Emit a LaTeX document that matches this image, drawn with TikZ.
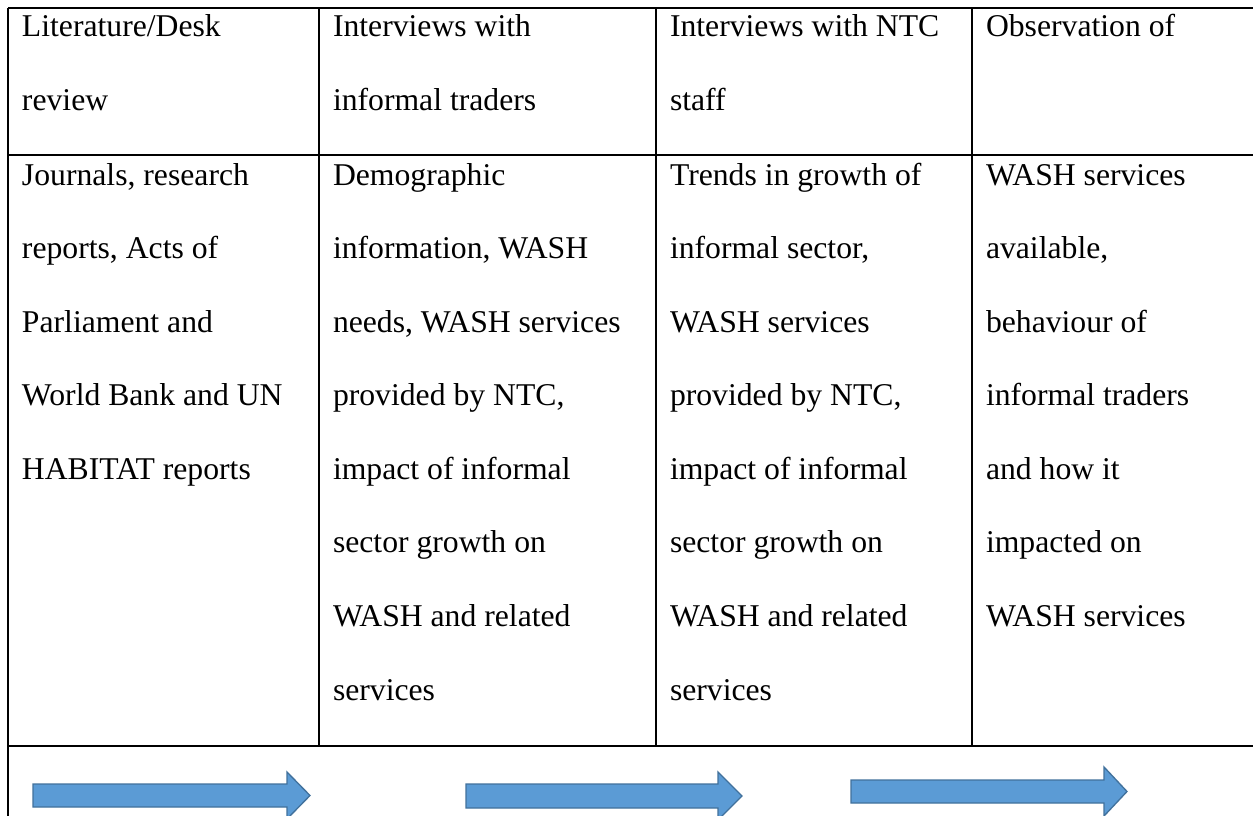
\documentclass[tikz,border=0pt]{standalone}
\usepackage{fontspec}
\setmainfont{Liberation Serif}
\definecolor{arrowfill}{HTML}{5B9BD5}
\definecolor{arrowline}{HTML}{41719C}
\begin{document}
\begin{tikzpicture}[x=0.378788pt,y=-0.378788pt,
  grid/.style={line width=0.5pt,black},
  cell/.style={anchor=north west,inner sep=0pt,outer sep=0pt,align=left,
    font=\fontsize{12}{27.87}\selectfont},
  blockarrow/.style={fill=arrowfill,draw=arrowline,line width=0.5pt,line join=miter}]
\clip (0,0) rectangle (1253,816);
\fill[white] (0,0) rectangle (1253,816);
% grid lines
\draw[grid] (8,8) -- (1260,8);
\draw[grid] (8,155) -- (1260,155);
\draw[grid] (8,746) -- (1260,746);
\draw[grid] (8,8) -- (8,830);
\draw[grid] (319,8) -- (319,746);
\draw[grid] (656,8) -- (656,746);
\draw[grid] (972,8) -- (972,746);
% header row
\def\st{\rule{0pt}{10pt}}
\node[cell] (h1) at (22,10.6) {\st Literature/Desk\\review};
\node[cell] (h2) at (333,10.6) {\st Interviews with\\informal traders};
\node[cell] (h3) at (670,10.6) {\st Interviews with NTC\\staff};
\node[cell] (h4) at (986,10.6) {\st Observation of};
% body row
\node[cell] (b1) at (22,158.6) {\st Journals, research\\reports, Acts of\\Parliament and\\World Bank and UN\\HABITAT reports};
\node[cell] (b2) at (333,158.6) {\st Demographic\\information, WASH\\needs, WASH services\\provided by NTC,\\impact of informal\\sector growth on\\WASH and related\\services};
\node[cell] (b3) at (670,158.6) {\st Trends in growth of\\informal sector,\\WASH services\\provided by NTC,\\impact of informal\\sector growth on\\WASH and related\\services};
\node[cell] (b4) at (986,158.6) {\st WASH services\\available,\\behaviour of\\informal traders\\and how it\\impacted on\\WASH services};
% block arrows
\draw[blockarrow] (33,784) -- (287,784) -- (287,772) -- (310,795.5) -- (287,819) -- (287,807) -- (33,807) -- cycle;
\draw[blockarrow] (466,784) -- (718,784) -- (718,772) -- (742,796) -- (718,820) -- (718,808) -- (466,808) -- cycle;
\draw[blockarrow] (851,780) -- (1104,780) -- (1104,767) -- (1127,791.5) -- (1104,816) -- (1104,803) -- (851,803) -- cycle;
\end{tikzpicture}
\end{document}
